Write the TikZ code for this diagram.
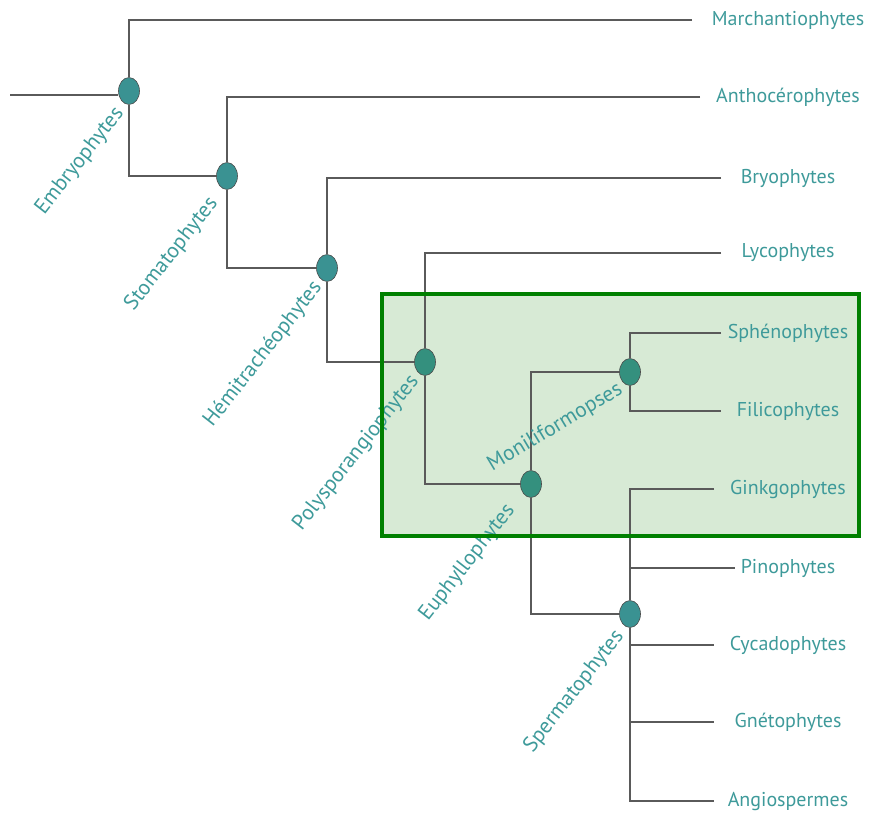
\documentclass[tikz,border=0pt]{standalone}
\usepackage{fontspec}
\setmainfont{PT Sans}
\usetikzlibrary{calc,shapes.geometric,positioning}

\definecolor{texte}{HTML}{3E9A9A}
\definecolor{noeud}{HTML}{3A9292}
\definecolor{noeudvert}{HTML}{34907E}
\definecolor{trait}{HTML}{5A5A5A}
\definecolor{cadre}{HTML}{008000}
\definecolor{fond}{HTML}{D7EAD5}

\tikzset{
  branche/.style={trait, line width=1.4pt},
  clade/.style={ellipse, draw=black!70, line width=0.6pt, fill=noeud,
                minimum width=21pt, minimum height=27pt, inner sep=0pt},
  taxon/.style={texte, font=\fontsize{20}{22}\selectfont, inner sep=0pt},
  groupe/.style={taxon, font=\fontsize{21.5}{23}\selectfont, anchor=east, rotate=52},
}

\begin{document}
\begin{tikzpicture}[x=1pt, y=-1pt]
  \useasboundingbox (0,0) rectangle (869,813);

  % --- Fond du cadre vert ---
  \fill[fond] (382,294) rectangle (859,536);

  % Noeuds des clades
  \node[clade] (E)  at (129,91)  {};   % Embryophytes
  \node[clade] (S)  at (227,176) {};   % Stomatophytes
  \node[clade] (H)  at (327,268) {};   % Hemitracheophytes
  \node[clade, fill=noeudvert] (P)  at (425,362) {};   % Polysporangiophytes
  \node[clade, fill=noeudvert] (Eu) at (531,484) {};   % Euphyllophytes
  \node[clade, fill=noeudvert] (M)  at (630,372) {};   % Moniliformopses
  \node[clade] (Sp) at (630,614) {};   % Spermatophytes

  % Taxons terminaux : nom/texte/y/fin du trait
  \foreach \nom/\txt/\y/\xe in {
      mar/Marchantiophytes/20/692,
      ant/Anthocérophytes/97/700,
      bry/Bryophytes/178/721,
      lyc/Lycophytes/253/721,
      sph/Sphénophytes/333/721,
      fil/Filicophytes/411/721,
      gin/Ginkgophytes/489/714,
      pin/Pinophytes/568/735,
      cyc/Cycadophytes/645/714,
      gne/Gnétophytes/722/714,
      ang/Angiospermes/801/714}{
    \node[taxon] (\nom) at (788,\y) {\txt};
    \coordinate (\nom-e) at (\xe,\y);
  }
  \coordinate (racine) at (10,95);

  % --- Branches ---
  \draw[branche] (racine) -- (racine -| E.west);
  \draw[branche] (mar-e) -| (E) |- (S);
  \draw[branche] (ant-e) -| (S) |- (H);
  \draw[branche] (bry-e) -| (H) |- (P);
  \draw[branche] (lyc-e) -| (P) |- (Eu);
  \draw[branche] (M) -| (Eu) |- (Sp);
  \draw[branche] (sph-e) -| (M) |- (fil-e);
  \draw[branche] (gin-e) -| (Sp) |- (ang-e);
  \draw[branche] (Sp |- pin-e) -- (pin-e);
  \draw[branche] (Sp |- cyc-e) -- (cyc-e);
  \draw[branche] (Sp |- gne-e) -- (gne-e);

  % Noms des clades (obliques)
  \node[groupe] at ($(E)+(-9,19)$)  {Embryophytes};
  \node[groupe] at ($(S)+(-13,24)$) {Stomatophytes};
  \node[groupe] at ($(H)+(-9,16)$)  {Hémitrachéophytes};
  \node[groupe] at ($(P)+(-10,16)$) {Polysporangiophytes};
  \node[groupe] at ($(Eu)+(-20,23)$) {Euphyllophytes};
  \node[groupe, rotate=-21] at ($(M)+(-9,16)$) {Moniliformopses};
  \node[groupe] at ($(Sp)+(-10,19)$) {Spermatophytes};

  % --- Bord du cadre (par-dessus) ---
  \draw[cadre, line width=4pt] (382,294) rectangle (859,536);

\end{tikzpicture}
\end{document}
